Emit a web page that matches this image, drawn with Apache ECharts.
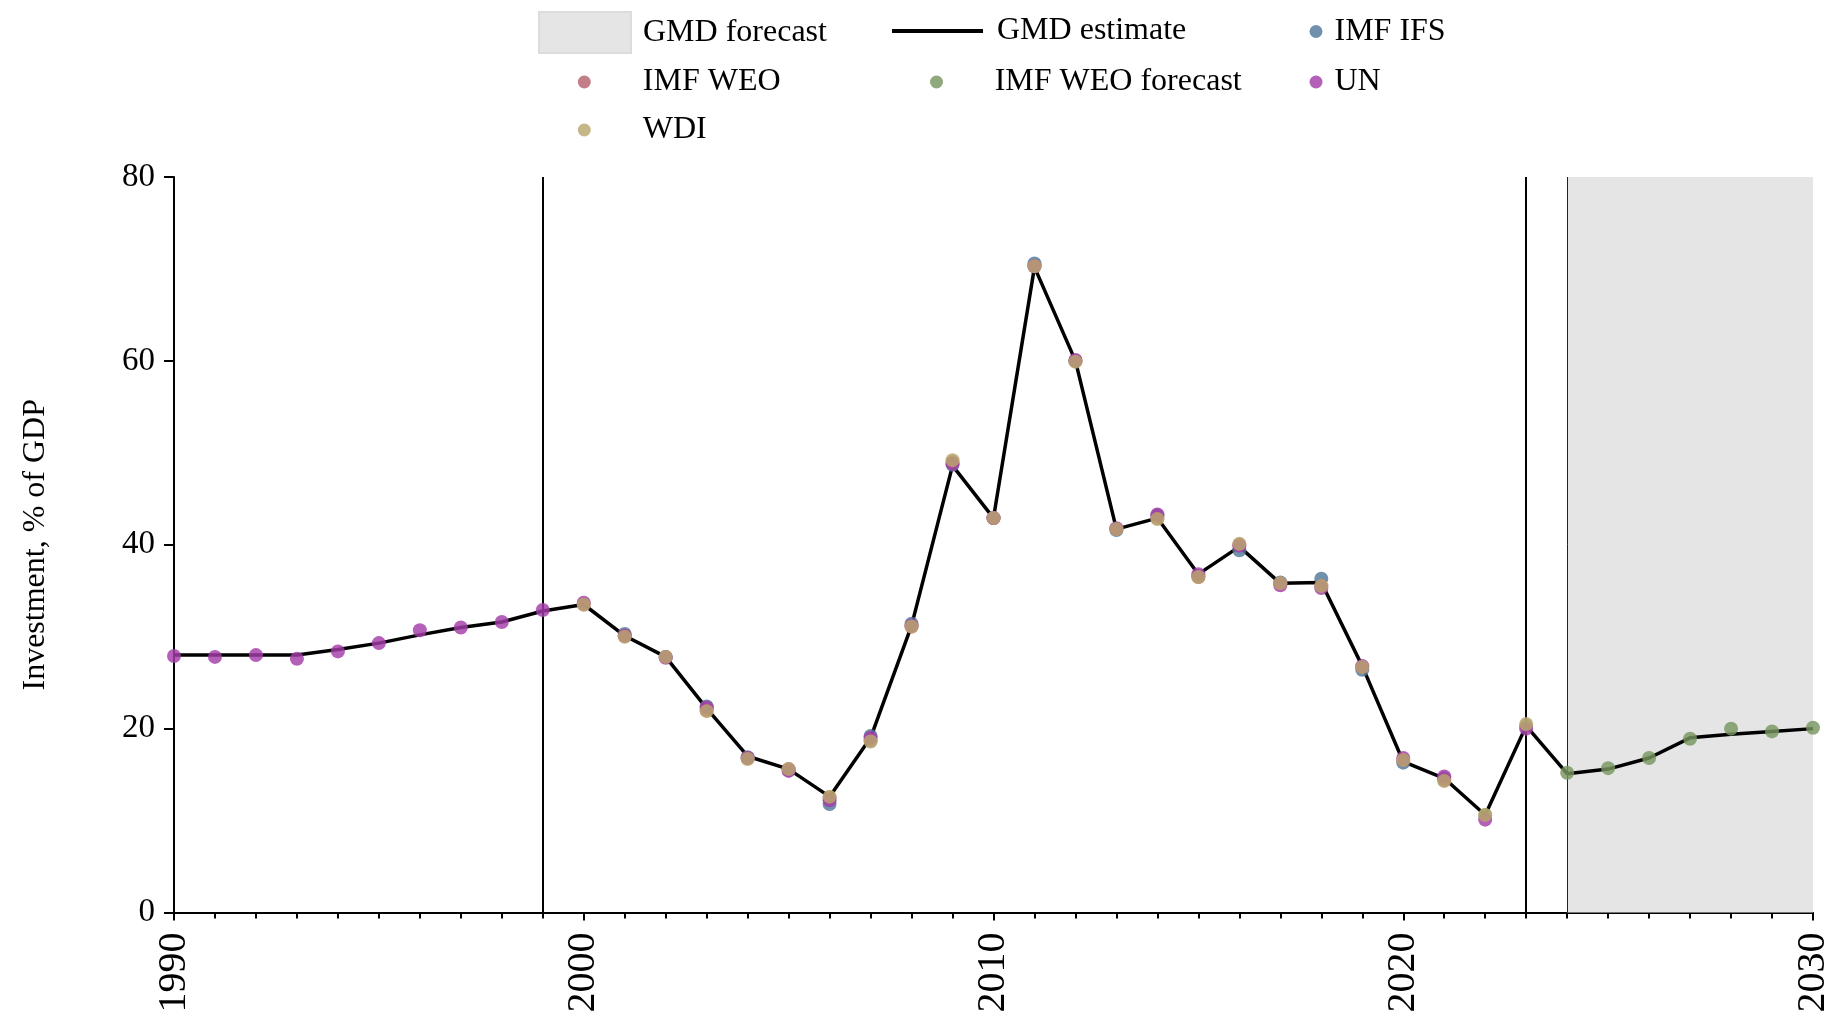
<!DOCTYPE html>
<html>
<head>
<meta charset="utf-8">
<script src="https://cdn.jsdelivr.net/npm/echarts@6/dist/echarts.min.js"></script>
<style>
html,body{margin:0;padding:0;background:#fff;}
#chart{width:1837px;height:1018px;}
</style>
</head>
<body>
<div id="chart"></div>
<script>
// ---- data ----
const gmdYears = [1990,1991,1992,1993,1994,1995,1996,1997,1998,1999,2000,2001,2002,2003,2004,2005,2006,2007,2008,2009,2010,2011,2012,2013,2014,2015,2016,2017,2018,2019,2020,2021,2022,2023,2024,2025,2026,2027,2028,2029,2030];
const gmdEstimate = [28.0,28.0,28.0,28.0,28.6,29.3,30.2,31.0,31.6,32.8,33.5,30.1,27.8,22.2,17.0,15.6,12.6,19.0,31.2,48.6,42.9,70.2,60.0,41.7,42.9,36.8,39.8,35.8,35.9,26.8,16.4,14.6,10.6,20.3,15.1,15.6,16.8,19.0,19.4,19.7,20.0];

const ifsYears = [2001,2002,2003,2004,2005,2006,2007,2008,2009,2010,2011,2012,2013,2014,2015,2016,2017,2018,2019,2020,2021];
const ifsValues = [30.3,27.8,22.4,16.9,15.5,11.8,19.2,31.4,48.7,42.9,70.6,60.0,41.6,43.2,36.6,39.4,35.9,36.3,26.4,16.3,14.6];

const weoYears = [2000,2001,2002,2003,2004,2005,2006,2007,2008,2009,2010,2011,2012,2013,2014,2015,2016,2017,2018,2019,2020,2021];
const weoValues = [33.5,30.1,27.8,22.0,16.8,15.6,12.5,18.7,31.1,49.0,42.9,70.3,60.0,41.7,42.9,36.5,40.0,35.8,35.5,26.7,16.6,14.4];

const weoFcYears = [2022,2023,2024,2025,2026,2027,2028,2029,2030];
const weoFcValues = [10.6,20.3,15.2,15.7,16.8,18.9,20.0,19.7,20.1];

const unYears = [1990,1991,1992,1993,1994,1995,1996,1997,1998,1999,2000,2001,2002,2003,2004,2005,2006,2007,2008,2009,2010,2011,2012,2013,2014,2015,2016,2017,2018,2019,2020,2021,2022,2023];
const unValues = [27.9,27.8,28.0,27.6,28.4,29.3,30.7,31.0,31.6,32.9,33.7,30.1,27.7,22.3,16.8,15.4,12.2,19.0,31.2,48.8,42.9,70.3,60.1,41.8,43.3,36.8,39.9,35.6,35.3,26.8,16.8,14.8,10.1,20.0];

const wdiYears = [2000,2001,2002,2003,2004,2005,2006,2007,2008,2009,2010,2011,2012,2013,2014,2015,2016,2017,2018,2019,2020,2021,2022,2023];
const wdiValues = [33.5,30.0,27.8,21.9,16.7,15.6,12.6,18.6,31.1,49.2,42.9,70.3,59.9,41.7,42.8,36.5,40.1,35.8,35.5,26.7,16.6,14.3,10.6,20.5];

const forecastStart = 2024, forecastEnd = 2030;
const vLines = [1999, 2023];
const xTicks = [1990, 2000, 2010, 2020, 2030];
const yTicks = [0, 20, 40, 60, 80];

// ---- helpers ----
const pairs = (xs, ys) => xs.map((x, i) => [x, ys[i]]);
const FONT = "'Liberation Serif','Times New Roman',serif";
const C = {ifs:'#52789c', weo:'#b5636c', weoFc:'#77965f', un:'#a43ca8', wdi:'#baa76e'};

function scatter(name, xs, ys, color, z) {
  return {
    name, type:'scatter', data: pairs(xs, ys), symbol:'circle', symbolSize:14, z,
    itemStyle:{color, opacity:0.82}, silent:true
  };
}

const TXT = {fontFamily:FONT, fontSize:32, color:'#000', lineHeight:36};
function legendItem(name, left, top, w, h, extra) {
  return Object.assign({
    show:true, data:[name], left, top, itemWidth:w, itemHeight:h, padding:0,
    selectedMode:false, textStyle:TXT
  }, extra || {});
}

const chart = echarts.init(document.getElementById('chart'), null, {renderer:'canvas'});
chart.setOption({
  animation:false,
  backgroundColor:'#fff',
  grid:{left:174, right:24, top:177, bottom:105.5, containLabel:false},
  legend:[
    legendItem('GMD forecast', 538, 11, 92, 41, {icon:'rect', textStyle:Object.assign({}, TXT, {padding:[0,0,0,7]}),
      data:[{name:'GMD forecast', itemStyle:{color:'#e5e5e5', borderColor:'#dcdcdc', borderWidth:2}}]}),
    legendItem('GMD estimate', 892, 13, 91, 4, {icon:'rect', textStyle:Object.assign({}, TXT, {padding:[0,0,0,9]}),
      data:[{name:'GMD estimate', itemStyle:{color:'#000'}}]}),
    legendItem('IMF IFS', 1309.5, 13.5, 27, 13, {icon:'circle'}),
    legendItem('IMF WEO', 577.8, 64, 107, 13, {icon:'circle'}),
    legendItem('IMF WEO forecast', 930, 64, 106.4, 13, {icon:'circle'}),
    legendItem('UN', 1309.5, 64, 27, 13, {icon:'circle'}),
    legendItem('WDI', 577.8, 112, 107, 13, {icon:'circle'})
  ],
  xAxis:{
    type:'value', min:xTicks[0], max:xTicks[xTicks.length-1], interval:10,
    axisLine:{show:true, lineStyle:{color:'#000', width:2}},
    axisTick:{show:true, length:8, lineStyle:{color:'#000', width:2}},
    minorTick:{show:true, splitNumber:10, length:6, lineStyle:{color:'#000', width:2}},
    splitLine:{show:false}, minorSplitLine:{show:false},
    axisLabel:{rotate:90, margin:20, fontFamily:FONT, fontSize:40, color:'#000',
      formatter: v => xTicks.includes(v) ? String(v) : ''}
  },
  yAxis:{
    type:'value', min:yTicks[0], max:yTicks[yTicks.length-1], interval:20,
    name:'Investment, % of GDP', nameLocation:'middle', nameRotate:90, nameGap:122,
    nameTextStyle:{fontFamily:FONT, fontSize:32, color:'#000'},
    axisLine:{show:true, lineStyle:{color:'#000', width:2}},
    axisTick:{show:true, length:10, lineStyle:{color:'#000', width:2}},
    splitLine:{show:false},
    axisLabel:{margin:19, fontFamily:FONT, fontSize:33, color:'#000'}
  },
  series:[
    {
      name:'GMD forecast', type:'bar', data:[], z:1, itemStyle:{color:'#e5e5e5'},
      markArea:{silent:true, itemStyle:{color:'#e5e5e5'},
        data:[[{xAxis:forecastStart},{xAxis:forecastEnd}]]},
      markLine:{silent:true, symbol:'none', label:{show:false}, animation:false,
        data:[
          ...vLines.map(v => ({xAxis:v, lineStyle:{color:'#000', width:2, type:'solid'}})),
          {xAxis:forecastStart, lineStyle:{color:'#222', width:1, type:'solid'}}
        ]}
    },
    {
      name:'GMD estimate', type:'line', data:pairs(gmdYears, gmdEstimate), symbol:'none', z:2,
      lineStyle:{color:'#000', width:3.5}, itemStyle:{color:'#000'}, silent:true
    },
    scatter('IMF IFS', ifsYears, ifsValues, C.ifs, 3),
    scatter('IMF WEO', weoYears, weoValues, C.weo, 4),
    scatter('IMF WEO forecast', weoFcYears, weoFcValues, C.weoFc, 5),
    scatter('UN', unYears, unValues, C.un, 6),
    scatter('WDI', wdiYears, wdiValues, C.wdi, 7)
  ]
});
</script>
</body>
</html>
